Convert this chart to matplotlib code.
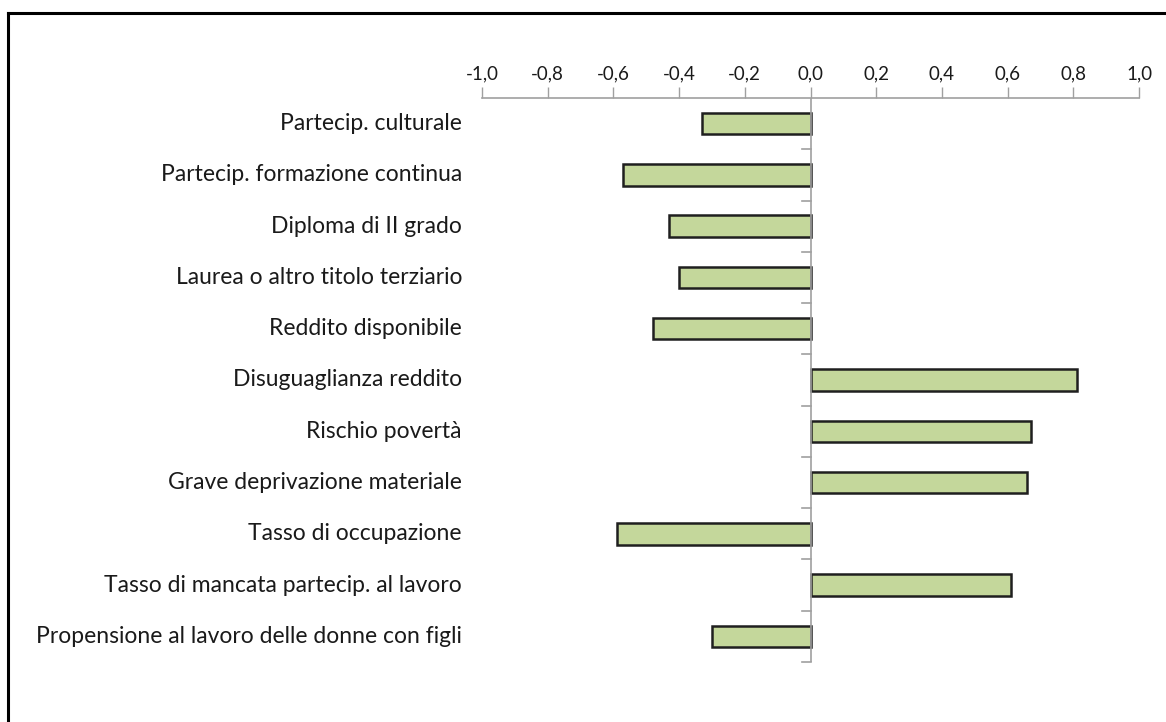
import matplotlib
matplotlib.use("Agg")
import matplotlib.pyplot as plt
from matplotlib.lines import Line2D
from matplotlib.ticker import FuncFormatter

categories = [
    "Partecip. culturale",
    "Partecip. formazione continua",
    "Diploma di II grado",
    "Laurea o altro titolo terziario",
    "Reddito disponibile",
    "Disuguaglianza reddito",
    "Rischio povertà",
    "Grave deprivazione materiale",
    "Tasso di occupazione",
    "Tasso di mancata partecip. al lavoro",
    "Propensione al lavoro delle donne con figli",
]
values = [-0.33, -0.57, -0.43, -0.40, -0.48, 0.81, 0.67, 0.66, -0.59, 0.61, -0.30]
xticks = [-1.0, -0.8, -0.6, -0.4, -0.2, 0.0, 0.2, 0.4, 0.6, 0.8, 1.0]

plt.rcParams['font.family'] = ['Lato', 'DejaVu Sans']

fig = plt.figure(figsize=(11.66, 7.22), dpi=100)
ax = fig.add_axes([482/1166, 1-662/722, 657/1166, (662-98)/722])

n = len(categories)
ypos = list(range(n))
ax.barh(ypos, values, height=0.42, color="#c4d79b", edgecolor="#1f1f1f", linewidth=1.8, zorder=3)

ax.set_xlim(-1.0, 1.0)
ax.set_ylim(n - 0.5, -0.5)

# x axis on top
ax.xaxis.set_ticks_position('top')
ax.xaxis.set_label_position('top')
ax.set_xticks(xticks)
ax.xaxis.set_major_formatter(FuncFormatter(lambda v, p: f"{v:.1f}".replace('.', ',').replace('-0,0', '0,0')))
ax.tick_params(axis='x', direction='out', length=8, width=1, color='#a0a0a0',
               labelsize=13.5, labelcolor='#1a1a1a', pad=3)

for s in ['bottom', 'right', 'left']:
    ax.spines[s].set_visible(False)
ax.spines['top'].set_color('#a0a0a0')
ax.spines['top'].set_linewidth(1.2)

# vertical axis at zero
ax.axvline(0, color='#a0a0a0', linewidth=1.2, zorder=4)
ax.set_yticks([])
for b in [i + 0.5 for i in range(n)]:
    ax.plot([-0.025, 0], [b, b], color='#a0a0a0', linewidth=1.2, zorder=4, clip_on=False)

for i, c in enumerate(categories):
    ax.text(-1.0 - 20/328.5, i, c, ha='right', va='center', fontsize=16.5, color='#1a1a1a')

# frame lines (top and left)
fig.add_artist(Line2D([8/1166, 1], [1-13/722, 1-13/722], color='black', linewidth=2.2, transform=fig.transFigure))
fig.add_artist(Line2D([8/1166, 8/1166], [0, 1-13/722], color='black', linewidth=2.2, transform=fig.transFigure))

fig.savefig("out.png", dpi=100, facecolor='white')
